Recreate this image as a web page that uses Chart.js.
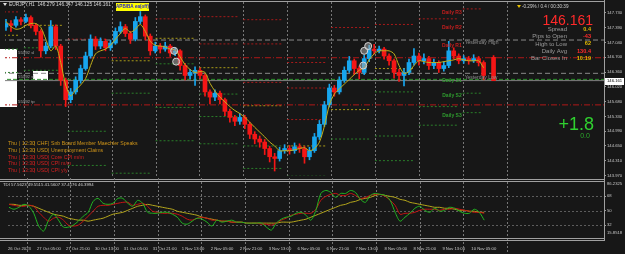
<!DOCTYPE html>
<html>
<head>
<meta charset="utf-8">
<title>EURJPY,H1</title>
<script src="https://cdn.jsdelivr.net/npm/chart.js@4.4.1/dist/chart.umd.min.js"></script>
<style>
  html, body { margin: 0; padding: 0; background: #171717; overflow: hidden; }
  #wrap { position: relative; width: 625px; height: 254px; background: #171717; }
  canvas { position: absolute; left: 0; }
  #main { top: 0; }
  #tdi { top: 178px; }
</style>
</head>
<body>
<div id="wrap">
  <canvas id="main" width="625" height="181"></canvas>
  <canvas id="tdi" width="625" height="76"></canvas>
</div>
<script>
// ---- price bars (one bar per slot, open = previous close) ----
const firstOpen = 147.40;
const closes = [
  147.48, 147.44, 147.57, 147.53, 147.62, 147.44, 147.30, 146.85, 146.96, 147.41,
  146.96, 146.17, 145.72, 145.90, 146.17, 146.44, 146.73, 147.12, 146.96, 147.07,
  146.92, 147.03, 147.30, 147.41, 147.25, 147.12, 147.53, 147.64, 147.19, 146.85,
  146.96, 146.89, 146.96, 146.80, 146.85, 146.51, 146.28, 146.35, 146.40, 146.28,
  145.90, 145.78, 145.87, 145.72, 145.45, 145.31, 145.22, 145.31, 145.15, 144.92,
  144.81, 144.74, 144.59, 144.40, 144.36, 144.54, 144.59, 144.54, 144.63, 144.59,
  144.40, 144.54, 144.86, 145.15, 145.60, 145.99, 145.90, 146.17, 146.40, 146.62,
  146.44, 146.35, 146.67, 146.89, 146.85, 146.89, 146.73, 146.62, 146.35, 146.28,
  146.35, 146.58, 146.73, 146.62, 146.67, 146.51, 146.58, 146.44, 146.51, 146.85,
  146.73, 146.62, 146.67, 146.62, 146.67, 146.58, 146.28
];
const highs = [
  147.58, 147.55, 147.64, 147.62, 147.70, 147.66, 147.48, 147.34, 147.05, 147.55,
  147.45, 147.00, 146.22, 145.98, 146.25, 146.52, 146.82, 147.22, 147.18, 147.15,
  147.12, 147.10, 147.38, 147.52, 147.46, 147.30, 147.62, 147.76, 147.68, 147.24,
  147.05, 147.02, 147.05, 147.00, 146.92, 146.88, 146.56, 146.42, 146.48, 146.45,
  146.32, 145.95, 145.95, 145.92, 145.76, 145.50, 145.36, 145.40, 145.36, 145.20,
  144.98, 144.88, 144.80, 144.64, 144.48, 144.62, 144.68, 144.66, 144.72, 144.70,
  144.64, 144.62, 144.94, 145.24, 145.68, 146.08, 146.05, 146.25, 146.48, 146.72,
  146.66, 146.50, 146.75, 146.98, 147.00, 146.96, 146.93, 146.78, 146.66, 146.42,
  146.44, 146.66, 146.90, 146.80, 146.78, 146.72, 146.66, 146.62, 146.60, 147.07,
  146.92, 146.78, 146.74, 146.72, 146.76, 146.72, 146.62
];
const lows = [
  147.32, 147.30, 147.40, 147.45, 147.50, 147.38, 147.22, 146.70, 146.78, 146.92,
  146.88, 146.05, 145.56, 145.65, 145.85, 146.10, 146.40, 146.68, 146.88, 146.90,
  146.85, 146.86, 147.00, 147.25, 147.18, 147.02, 147.08, 147.48, 147.10, 146.75,
  146.80, 146.80, 146.84, 146.72, 146.74, 146.40, 146.18, 146.20, 146.05, 146.20,
  145.80, 145.62, 145.70, 145.62, 145.35, 145.20, 145.12, 145.15, 145.05, 144.82,
  144.70, 144.62, 144.45, 144.28, 144.07, 144.30, 144.48, 144.46, 144.48, 144.50,
  144.25, 144.33, 144.50, 144.80, 145.10, 145.55, 145.80, 145.85, 146.12, 146.35,
  146.30, 146.20, 146.30, 146.60, 146.78, 146.80, 146.66, 146.52, 146.22, 146.14,
  146.04, 146.30, 146.52, 146.52, 146.55, 146.42, 146.44, 146.35, 146.38, 146.46,
  146.66, 146.55, 146.56, 146.54, 146.58, 146.50, 146.18
];
const lastBarSlot = 98;
const lastBar = [146.70, 146.74, 146.16, 146.161]; // open, high, low, close

// yellow moving average on price
const priceMA = [
  147.53, 147.41, 147.35, 147.37, 147.44, 147.48, 147.48, 147.39, 147.12, 146.85,
  146.96, 146.58, 146.06, 145.81, 145.94, 146.06, 146.21, 146.51, 146.78, 146.85,
  146.89, 146.98, 147.12, 147.25, 147.37, 147.28, 147.35, 147.46, 147.30, 147.07,
  146.98, 146.96, 146.94, 146.89, 146.87, 146.71, 146.53, 146.42, 146.35, 146.37,
  146.35, 146.10, 145.92, 145.78, 145.67, 145.56, 145.47, 145.40, 145.31, 145.20,
  145.08, 144.97, 144.86, 144.74, 144.65, 144.54, 144.54, 144.54, 144.56, 144.59,
  144.61, 144.54, 144.59, 144.74, 145.11, 145.60, 145.85, 145.97, 146.08, 146.19,
  146.30, 146.40, 146.46, 146.64, 146.78, 146.85, 146.85, 146.85, 146.78, 146.51,
  146.33, 146.37, 146.51, 146.62, 146.60, 146.58, 146.58, 146.58, 146.60, 146.62,
  146.64, 146.67, 146.64, 146.62, 146.62, 146.62, 146.46
];

// signal marks drawn on the bars
const markSlot = [33.8, 34.2, 71.8, 72.0, 72.8];
const markPrice = [146.85, 146.60, 146.51, 146.85, 146.96];

// daily pivot levels, one entry per day (first one starts before the left edge)
const dayR1 = [147.75, null, 147.12, null, 147.59, 147.01, 146.12, 145.26, null, null, null, null];
const dayR2 = [null, null, null, null, null, 147.64, 147.01, 145.99, 147.39, 147.46, 147.59, null];
const dayR3 = [null, null, null, null, null, null, 147.57, 146.58, null, null, null, 147.82];
const dayPivot = [147.21, 147.44, null, 146.62, 147.14, 146.46, 145.58, 144.65, 145.49, 146.44, null, null];
const dayS1 = [146.89, 146.92, 144.99, 145.87, 146.55, 145.85, 144.65, 143.95, 144.81, 145.90, null, null];
const dayS2 = [146.35, 146.40, 144.20, 144.02, 145.54, 145.33, 144.13, null, null, 144.88, 145.56, 145.87];
const dayS3 = [null, null, null, null, 144.77, 144.70, null, null, null, 144.31, 145.13, 145.42];

// full width lines
const redLevels = [146.69, 145.60];
const yesterdayHigh = 147.10;
const yesterdayLow = 146.33;
const dailyS1Now = 146.19;
const bid = 146.161;

const priceTicks = [147.73, 147.39, 147.04, 146.70, 146.36, 146.02, 145.68, 145.33, 144.99, 144.65, 144.31, 143.97];

// TDI sub window
const tdiGreen = [
  54.1, 51.7, 54.1, 57.8, 55.4, 46.7, 30.7, 24.5, 38.1, 45.5,
  38.1, 29.4, 29.4, 31.9, 36.8, 43.0, 47.9, 61.5, 65.2, 59.1,
  57.8, 59.1, 65.2, 65.2, 59.1, 55.4, 62.8, 59.1, 47.9, 46.7,
  46.7, 47.9, 47.9, 45.5, 41.8, 34.4, 33.1, 36.8, 40.5, 39.3,
  35.6, 30.7, 38.1, 35.6, 36.8, 38.1, 35.6, 35.6, 34.4, 34.4,
  34.4, 34.4, 29.4, 25.7, 34.4, 39.3, 41.8, 43.0, 46.7, 47.9,
  44.2, 38.1, 50.4, 71.4, 75.1, 72.6, 66.5, 71.4, 71.4, 75.1,
  72.6, 64.0, 60.3, 68.9, 71.4, 70.2, 68.9, 62.8, 47.9, 36.8,
  41.8, 46.7, 52.9, 55.4, 50.4, 47.9, 52.9, 49.2, 50.4, 54.1,
  52.9, 49.2, 46.7, 46.7, 51.7, 47.9, 38.1
];
const tdiRed = [
  57.8, 56.6, 55.4, 55.4, 56.6, 55.4, 47.9, 41.8, 36.8, 40.5,
  41.8, 38.1, 31.9, 30.7, 31.9, 36.8, 43.0, 49.2, 55.4, 56.6,
  56.6, 57.8, 59.1, 60.3, 60.3, 56.6, 57.8, 59.1, 55.4, 49.2,
  47.9, 46.7, 46.7, 46.7, 45.5, 43.0, 39.3, 38.1, 40.5, 41.8,
  40.5, 38.1, 38.1, 36.8, 36.8, 35.6, 35.6, 35.6, 34.4, 34.4,
  34.4, 33.1, 33.1, 31.9, 34.4, 38.1, 40.5, 44.2, 45.5, 46.7,
  46.7, 46.7, 51.7, 62.8, 67.7, 70.2, 71.4, 68.9, 68.9, 71.4,
  68.9, 65.2, 66.5, 68.9, 70.2, 70.2, 67.7, 62.8, 56.6, 45.5,
  46.7, 46.7, 47.9, 50.4, 51.7, 51.7, 51.7, 50.4, 51.7, 51.7,
  52.9, 51.7, 50.4, 49.2, 47.9, 47.9, 46.7
];
const tdiYellow = [
  57.8, 57.8, 56.6, 56.6, 56.6, 55.4, 52.9, 50.4, 47.9, 45.5,
  44.2, 43.0, 40.5, 39.3, 38.1, 38.1, 36.8, 38.1, 39.3, 40.5,
  43.0, 45.5, 46.7, 47.9, 50.4, 52.9, 55.4, 56.6, 57.8, 56.6,
  55.4, 54.1, 52.9, 51.7, 49.2, 47.9, 46.7, 45.5, 44.2, 41.8,
  40.5, 39.3, 38.1, 36.8, 36.8, 35.6, 35.6, 35.6, 34.4, 34.4,
  34.4, 34.4, 34.4, 34.4, 34.4, 35.6, 35.6, 35.6, 36.8, 38.1,
  39.3, 41.8, 44.2, 46.7, 49.2, 51.7, 54.1, 56.6, 57.8, 60.3,
  61.5, 64.0, 65.2, 66.5, 68.9, 70.2, 68.9, 67.7, 66.5, 64.0,
  62.8, 60.3, 59.1, 57.8, 56.6, 55.4, 54.1, 54.1, 52.9, 52.9,
  51.7, 50.4, 50.4, 49.2, 49.2, 47.9, 47.9
];
const tdiLevels = [32, 50, 68];
const tdiMin = 15.8518, tdiMax = 86.2325;

const timeLabels = [
  '26 Oct 2023', '27 Oct 05:00', '27 Oct 21:00', '30 Oct 13:00', '31 Oct 05:00',
  '31 Oct 21:00', '1 Nov 13:00', '2 Nov 05:00', '2 Nov 21:00', '3 Nov 13:00',
  '6 Nov 05:00', '6 Nov 21:00', '7 Nov 13:00', '8 Nov 05:00', '8 Nov 21:00',
  '9 Nov 13:00', '10 Nov 05:00'
];

const calendar = [
  ['Thu', '12:30', 'CHF', 'Snb Board Member Maechler Speaks', '#cf9418'],
  ['Thu', '13:30', 'USD', 'Unemployment Claims', '#cf9418'],
  ['Thu', '13:30', 'USD', 'Core CPI m/m', '#d42020'],
  ['Thu', '13:30', 'USD', 'CPI m/m', '#d42020'],
  ['Thu', '13:30', 'USD', 'CPI y/y', '#d42020']
];

// ---- layout constants ----
const FONT = '"Liberation Sans", Arial, sans-serif';
const X_MIN = -0.2, X_MAX = 120.2;
const DAY_START = 3.6, DAY_BARS = 8.82, SEG_BARS = 8.0, CUR_DAY_END = 95.5;
const TICK0 = -0.2, TICK_STEP = 5.85;
const UP = '#17a6ee', DOWN = '#f41616';

const bars = closes.map((c, i) => ({
  i, o: i === 0 ? firstOpen : closes[i - 1], h: highs[i], l: lows[i], c
}));
bars.push({ i: lastBarSlot, o: lastBar[0], h: lastBar[1], l: lastBar[2], c: lastBar[3] });
const barColor = bars.map(b => (b.c >= b.o ? UP : DOWN));

function daySegments(levels) {
  const pts = [];
  levels.forEach((v, d) => {
    if (v === null) return;
    const s = DAY_START + (d - 1) * DAY_BARS;
    const e = d === levels.length - 1 ? CUR_DAY_END : s + SEG_BARS;
    pts.push({ x: s, y: v }, { x: e, y: v }, { x: e, y: null });
  });
  return pts;
}
const flat = v => [{ x: -1, y: v }, { x: 121, y: v }];

function levelSet(levels, color) {
  return { type: 'line', data: daySegments(levels), borderColor: color, borderWidth: 1,
    borderDash: [2, 2], pointRadius: 0, spanGaps: false, order: 6 };
}
function fullLine(v, color, dash, order) {
  return { type: 'line', data: flat(v), borderColor: color, borderWidth: 1,
    borderDash: dash, pointRadius: 0, order: order };
}

function txt(ctx, s, x, y, color, size, align, weight, base) {
  ctx.font = (weight || '') + ' ' + size + 'px ' + FONT;
  ctx.fillStyle = color;
  ctx.textAlign = align || 'left';
  ctx.textBaseline = base || 'middle';
  ctx.fillText(s, x, y);
}
function hline(ctx, x1, x2, y) { ctx.beginPath(); ctx.moveTo(x1, y); ctx.lineTo(x2, y); ctx.stroke(); }
function vline(ctx, x, y1, y2) { ctx.beginPath(); ctx.moveTo(x, y1); ctx.lineTo(x, y2); ctx.stroke(); }

const mainDeco = {
  id: 'mainDeco',
  beforeDatasetsDraw(chart) {
    const { ctx, chartArea: a, scales: { x } } = chart;
    ctx.save();
    // day separators
    ctx.strokeStyle = '#777777';
    ctx.lineWidth = 1;
    ctx.setLineDash([2, 2]);
    for (let k = 0; k < 12; k++) {
      const px = Math.round(x.getPixelForValue(DAY_START + k * DAY_BARS)) + 0.5;
      vline(ctx, px, 2, a.bottom);
    }
    ctx.setLineDash([]);
    // trade objects on the left edge
    ctx.fillStyle = '#ffffff';
    ctx.fillRect(0, 49, 17, 58);
    ctx.fillRect(33, 71, 15, 9);
    ctx.restore();
  },
  afterDraw(chart) {
    const { ctx, scales: { x, y } } = chart;
    ctx.save();
    // frame
    ctx.strokeStyle = '#a0a0a0';
    ctx.lineWidth = 1;
    hline(ctx, 0, 604, 1.5);
    hline(ctx, 0, 604, 179.5);
    vline(ctx, 604.5, 0, 181);

    // header
    ctx.fillStyle = '#e0e0e0';
    ctx.beginPath(); ctx.moveTo(3, 3); ctx.lineTo(7, 3); ctx.lineTo(5, 6); ctx.closePath(); ctx.fill();
    txt(ctx, 'EURJPY,H1  146.279 146.347 146.125 146.161', 9, 4.8, '#d8d8d8', 4.8);
    ctx.fillStyle = '#ffff00';
    ctx.fillRect(116, 3, 33, 8);
    txt(ctx, 'APB/BA ea(off)', 132.5, 7.2, '#1c1cd0', 4.6, 'center', 'bold');

    // trade object labels
    txt(ctx, '55392 sl', 18, 53, '#a8a8a8', 4.3);
    txt(ctx, '55392 sl', 18, 77, '#a8a8a8', 4.3);
    txt(ctx, '55392 tp', 18, 102, '#a8a8a8', 4.3);

    // daily level labels
    const lx = x.getPixelForValue(DAY_START + 10 * DAY_BARS);
    [['Daily R3', 147.73], ['Daily R2', 147.39], ['Daily R1', 146.96]].forEach(([s, p]) =>
      txt(ctx, s, lx - 1, y.getPixelForValue(p), '#c41e1e', 5, 'right', 'bold'));
    [['Daily S1', 146.17], ['Daily S2', 145.81], ['Daily S3', 145.35]].forEach(([s, p]) =>
      txt(ctx, s, lx - 1, y.getPixelForValue(p), '#2f9a2f', 5, 'right', 'bold'));
    txt(ctx, 'Yesterday High', lx + 2, y.getPixelForValue(147.03), '#8e8e8e', 5);
    txt(ctx, 'Yesterday Low', lx + 2, y.getPixelForValue(146.24), '#8e8e8e', 5);

    // info panel
    ctx.fillStyle = '#e8c000';
    ctx.beginPath(); ctx.moveTo(517, 5); ctx.lineTo(521, 5); ctx.lineTo(519, 8); ctx.closePath(); ctx.fill();
    txt(ctx, '-0.29% / 0.4 / 00:30:39', 522, 6.5, '#d0d0d0', 4.6);
    txt(ctx, '146.161', 593, 25, '#ff2a2a', 14, 'right', '', 'alphabetic');
    const info = [['Spread', '0.4', '#e0b800'], ['Pips to Open', '-43', '#ff2a2a'],
      ['High to Low', '62', '#e0b800'], ['Daily Avg', '130.4', '#ff2a2a'], ['Bar Closes In', '10:19', '#e0b800']];
    info.forEach(([l, v, c], k) => {
      const yy = 29.3 + k * 7.3;
      txt(ctx, l, 567, yy, '#9c9c9c', 6, 'right');
      txt(ctx, v, 591, yy, c, 5.6, 'right', 'bold');
    });
    txt(ctx, '+1.8', 594, 130, '#2fd02f', 18, 'right', '', 'alphabetic');
    txt(ctx, '0.0', 585, 136, '#2aa82a', 7, 'center');

    // economic calendar
    calendar.forEach((r, k) => {
      const yy = 143.3 + k * 6.9;
      txt(ctx, r[0], 8, yy, r[4], 5.2);
      txt(ctx, '|', 19, yy, r[4], 5.2);
      txt(ctx, r[1], 22, yy, r[4], 5.2);
      txt(ctx, '|', 34, yy, r[4], 5.2);
      txt(ctx, r[2], 37, yy, r[4], 5.2);
      txt(ctx, '|', 48, yy, r[4], 5.2);
      txt(ctx, r[3], 51, yy, r[4], 5.2);
    });

    // bid label on the price axis
    const by = y.getPixelForValue(bid);
    ctx.fillStyle = '#ffffff';
    ctx.fillRect(605, Math.round(by) - 3, 19, 7);
    txt(ctx, '146.161', 607, by + 0.5, '#000000', 4.2);
    ctx.restore();
  }
};

const mainChart = new Chart(document.getElementById('main'), {
  type: 'bar',
  data: {
    datasets: [
      levelSet(dayR1, '#a61a1a'), levelSet(dayR2, '#a61a1a'), levelSet(dayR3, '#a61a1a'),
      levelSet(dayPivot, '#a89a18'),
      levelSet(dayS1, '#2a7e2a'), levelSet(dayS2, '#2a7e2a'), levelSet(dayS3, '#2a7e2a'),
      fullLine(redLevels[0], '#b01818', [6, 2, 1, 2], 5),
      fullLine(redLevels[1], '#b01818', [6, 2, 1, 2], 5),
      fullLine(yesterdayHigh, '#8a8a8a', [5, 3], 5),
      fullLine(yesterdayLow, '#8a8a8a', [5, 3], 5),
      fullLine(dailyS1Now, '#2e8f2e', [4, 2], 5),
      fullLine(bid, '#808080', [], 5),
      {
        type: 'bar', data: bars.map(b => ({ x: b.i, y: [b.l, b.h] })),
        backgroundColor: barColor, barThickness: 1, grouped: false, order: 3
      },
      {
        type: 'bar', data: bars.map(b => ({ x: b.i, y: [b.o, b.c] })),
        backgroundColor: barColor, barThickness: 4, grouped: false, minBarLength: 1, order: 2
      },
      {
        type: 'line', data: priceMA.map((v, i) => ({ x: i, y: v })),
        borderColor: '#c2b01c', borderWidth: 1, pointRadius: 0, tension: 0.3, order: 1
      },
      {
        type: 'line', data: markSlot.map((s, k) => ({ x: s, y: markPrice[k] })), showLine: false,
        pointRadius: 3.5, pointBackgroundColor: 'rgba(165,165,165,0.55)', pointBorderColor: '#d4d4d4',
        pointBorderWidth: 1, order: 0
      }
    ]
  },
  options: {
    responsive: false, animation: false, events: [],
    layout: { padding: { left: 2, right: 0, top: 3, bottom: 3 } },
    plugins: { legend: { display: false }, tooltip: { enabled: false } },
    scales: {
      x: { type: 'linear', display: false, min: X_MIN, max: X_MAX, offset: false },
      y: {
        type: 'linear', position: 'right', min: 143.955, max: 147.91,
        afterFit: s => { s.width = 21; },
        afterBuildTicks: s => { s.ticks = priceTicks.map(v => ({ value: v })); },
        ticks: { color: '#c8c8c8', font: { family: FONT, size: 4.2 }, padding: 1,
          callback: v => Number(v).toFixed(3) },
        grid: { drawOnChartArea: false, drawTicks: true, tickLength: 2, color: '#9a9a9a' },
        border: { display: false }
      }
    }
  },
  plugins: [mainDeco]
});

const tdiDeco = {
  id: 'tdiDeco',
  beforeDatasetsDraw(chart) {
    const { ctx, chartArea: a, scales: { x, y } } = chart;
    ctx.save();
    ctx.lineWidth = 1;
    ctx.setLineDash([2, 2]);
    ctx.strokeStyle = '#777777';
    for (let k = 0; k < 12; k++) {
      const px = Math.round(x.getPixelForValue(DAY_START + k * DAY_BARS)) + 0.5;
      vline(ctx, px, 0, 76);
    }
    ctx.strokeStyle = '#5c5c5c';
    tdiLevels.forEach(v => hline(ctx, a.left, a.right, Math.round(y.getPixelForValue(v)) + 0.5));
    ctx.restore();
  },
  afterDraw(chart) {
    const { ctx } = chart;
    ctx.save();
    ctx.strokeStyle = '#a0a0a0';
    ctx.lineWidth = 1;
    hline(ctx, 0, 604, 3.5);
    hline(ctx, 0, 604, 60.5);
    hline(ctx, 0, 604, 62.5);
    vline(ctx, 604.5, 0, 63);
    txt(ctx, 'TDI 57.5623 49.5515 41.5607 37.4176 46.3994', 3, 6.8, '#d0d0d0', 4.3);
    txt(ctx, tdiMax.toFixed(4), 607, 5.5, '#c8c8c8', 4.2);
    txt(ctx, tdiMin.toFixed(4), 607, 55.3, '#c8c8c8', 4.2);
    ctx.restore();
  }
};

const tdiLine = (vals, color) => ({
  data: vals.map((v, i) => ({ x: i, y: v })), borderColor: color, borderWidth: 1,
  pointRadius: 0, tension: 0.3
});

const tdiChart = new Chart(document.getElementById('tdi'), {
  type: 'line',
  data: {
    datasets: [tdiLine(tdiGreen, '#22b422'), tdiLine(tdiRed, '#c41414'), tdiLine(tdiYellow, '#b3a51c')]
  },
  options: {
    responsive: false, animation: false, events: [],
    layout: { padding: { left: 2, right: 0, top: 3, bottom: 0 } },
    plugins: { legend: { display: false }, tooltip: { enabled: false } },
    scales: {
      x: {
        type: 'linear', min: X_MIN, max: X_MAX, offset: false, position: 'bottom',
        afterFit: s => { s.height = 16; },
        afterBuildTicks: s => { s.ticks = timeLabels.map((_, k) => ({ value: TICK0 + k * TICK_STEP })); },
        ticks: { autoSkip: false, maxRotation: 0, minRotation: 0, align: 'start', padding: 8,
          color: '#c8c8c8', font: { family: FONT, size: 4.2 }, callback: (v, i) => timeLabels[i] },
        grid: { display: false, drawTicks: false },
        border: { display: false }
      },
      y: {
        type: 'linear', position: 'right', min: tdiMin, max: tdiMax,
        afterFit: s => { s.width = 21; },
        afterBuildTicks: s => { s.ticks = tdiLevels.map(v => ({ value: v })); },
        ticks: { color: '#c8c8c8', font: { family: FONT, size: 4.2 }, padding: 1, callback: v => String(v) },
        grid: { drawOnChartArea: false, drawTicks: true, tickLength: 2, color: '#9a9a9a' },
        border: { display: false }
      }
    }
  },
  plugins: [tdiDeco]
});
</script>
</body>
</html>
